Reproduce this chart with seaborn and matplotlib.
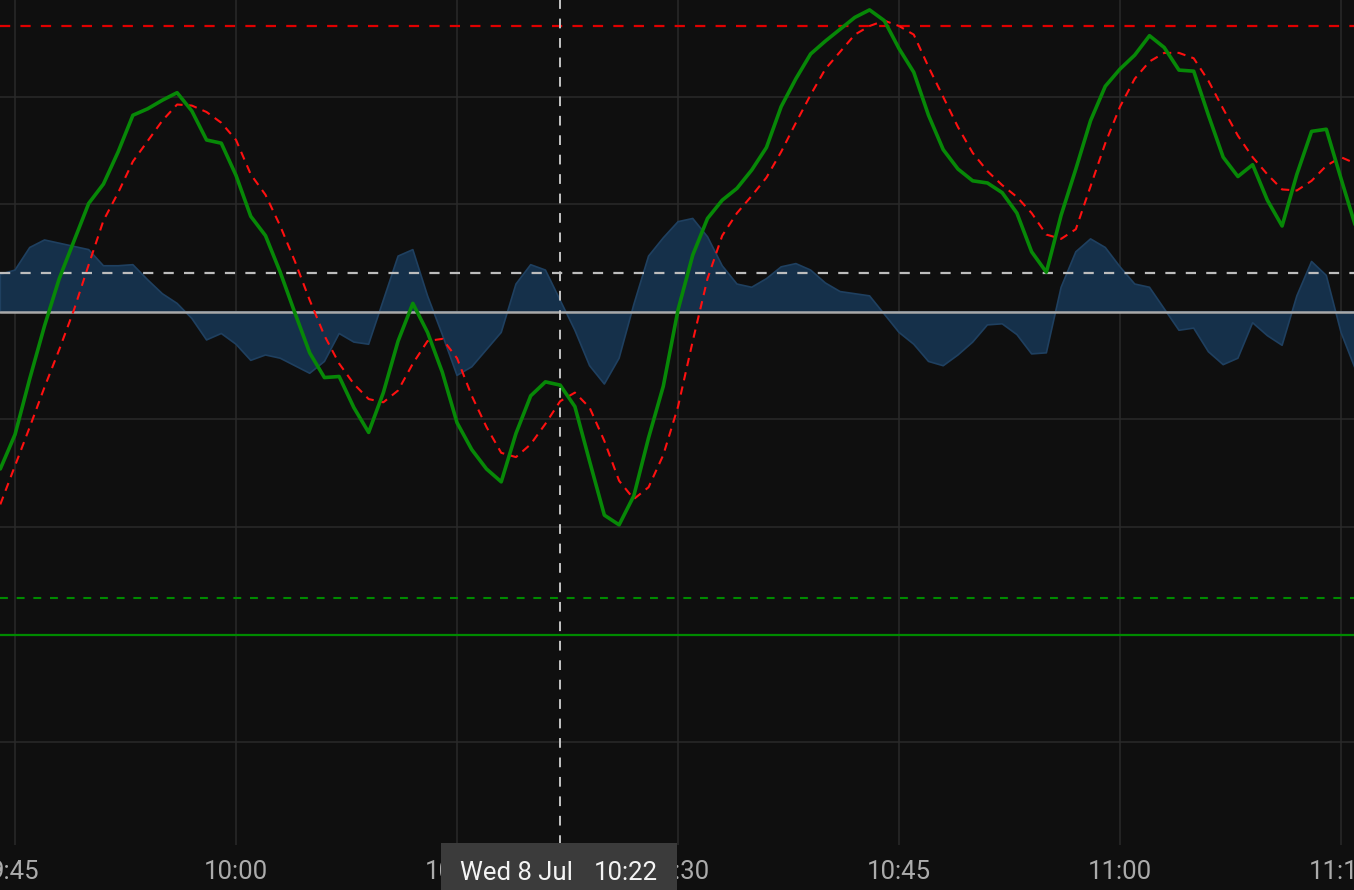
import pandas as pd
import matplotlib
matplotlib.use("Agg")
import matplotlib.pyplot as plt
import matplotlib.dates as mdates
from matplotlib.patches import Rectangle
import seaborn as sns

# ===================== 数据（每分钟一个点，09:44 起） =====================
start_time = "2020-07-08 09:44"
macd = [-1.46, -1.14, -0.62, -0.13, 0.31, 0.66, 1.01, 1.19, 1.49, 1.83,
        1.89, 1.97, 2.04, 1.87, 1.60, 1.57, 1.27, 0.89, 0.71, 0.37,
        -0.01, -0.38, -0.61, -0.60, -0.89, -1.12, -0.75, -0.27, 0.08, -0.19,
        -0.56, -1.03, -1.28, -1.46, -1.58, -1.13, -0.78, -0.65, -0.68, -0.88,
        -1.39, -1.89, -1.98, -1.71, -1.17, -0.69, 0.02, 0.53, 0.87, 1.04,
        1.15, 1.32, 1.53, 1.91, 2.17, 2.40, 2.52, 2.63, 2.74, 2.81,
        2.71, 2.45, 2.23, 1.83, 1.51, 1.33, 1.22, 1.20, 1.11, 0.92,
        0.56, 0.37, 0.90, 1.33, 1.78, 2.10, 2.26, 2.39, 2.57, 2.46,
        2.25, 2.24, 1.83, 1.44, 1.26, 1.37, 1.04, 0.80, 1.28, 1.68,
        1.70, 1.24, 0.79]
signal = [-1.79, -1.43, -1.07, -0.70, -0.35, 0.02, 0.44, 0.85, 1.11, 1.40,
          1.59, 1.78, 1.93, 1.92, 1.86, 1.76, 1.60, 1.28, 1.09, 0.80,
          0.47, 0.11, -0.22, -0.48, -0.67, -0.81, -0.84, -0.73, -0.48, -0.27,
          -0.25, -0.43, -0.78, -1.07, -1.31, -1.35, -1.23, -1.04, -0.83, -0.75,
          -0.89, -1.20, -1.57, -1.74, -1.63, -1.33, -0.88, -0.27, 0.31, 0.71,
          0.92, 1.08, 1.25, 1.49, 1.76, 2.02, 2.26, 2.42, 2.58, 2.66,
          2.71, 2.66, 2.58, 2.28, 2.00, 1.72, 1.48, 1.31, 1.18, 1.07,
          0.92, 0.72, 0.68, 0.77, 1.17, 1.57, 1.91, 2.17, 2.33, 2.41,
          2.41, 2.36, 2.15, 1.89, 1.64, 1.44, 1.28, 1.14, 1.13, 1.22,
          1.36, 1.44, 1.38]
hist = [0.35, 0.39, 0.60, 0.67, 0.64, 0.61, 0.58, 0.43, 0.43, 0.44,
        0.30, 0.17, 0.08, -0.06, -0.26, -0.20, -0.30, -0.45, -0.40, -0.43,
        -0.50, -0.57, -0.46, -0.20, -0.28, -0.30, 0.11, 0.52, 0.58, 0.15,
        -0.21, -0.59, -0.51, -0.35, -0.19, 0.26, 0.44, 0.39, 0.11, -0.17,
        -0.50, -0.67, -0.43, 0.07, 0.52, 0.69, 0.84, 0.87, 0.70, 0.43,
        0.26, 0.23, 0.31, 0.42, 0.45, 0.39, 0.27, 0.19, 0.17, 0.15,
        -0.02, -0.19, -0.30, -0.46, -0.50, -0.40, -0.28, -0.12, -0.11, -0.21,
        -0.39, -0.38, 0.23, 0.56, 0.68, 0.60, 0.42, 0.26, 0.23, 0.03,
        -0.17, -0.15, -0.37, -0.49, -0.43, -0.10, -0.22, -0.31, 0.15, 0.47,
        0.34, -0.19, -0.54]

# 参考线
upper_level = 2.66
hist_level = 0.36
lower_level = -2.66
floor_level = -3.0
cursor_time = "2020-07-08 10:22"
tooltip_date = "Wed 8 Jul"
tooltip_time = "10:22"

df = pd.DataFrame({
    "time": pd.date_range(start_time, periods=len(macd), freq="min"),
    "macd": macd,
    "signal": signal,
    "hist": hist,
})

# ===================== 样式 =====================
BG = "#0f0f0f"
sns.set_theme(style="dark", rc={
    "axes.facecolor": BG,
    "figure.facecolor": BG,
    "axes.edgecolor": BG,
    "grid.color": "#2a2a2a",
    "grid.linewidth": 1.1,
})
plt.rcParams["font.family"] = ["Roboto", "DejaVu Sans"]

fig = plt.figure(figsize=(13.54, 8.90), dpi=100)
ax = fig.add_axes([0, 45 / 890, 1, 845 / 890])

# 柱状区域（面积）
ax.fill_between(df["time"], 0, df["hist"], color="#15304a", edgecolor="#1f4060",
                linewidth=1.2, zorder=2)

# 水平参考线
ax.axhline(0, color="#a8a8a8", lw=1.8, zorder=3)
ax.axhline(hist_level, color="#bdbdbd", lw=1.6, dashes=(4.6, 4.6), zorder=3)
ax.axhline(upper_level, color="#e00000", lw=1.6, dashes=(4.6, 4.6), zorder=3)
ax.axhline(lower_level, color="#008a00", lw=1.5, dashes=(3.8, 4.2), zorder=3)
ax.axhline(floor_level, color="#008a00", lw=1.6, zorder=3)

# 信号线 + MACD 线
sns.lineplot(data=df, x="time", y="signal", ax=ax, color="#ff1010", lw=1.5,
             zorder=4)
ax.lines[-1].set_dashes((4.0, 3.0))
sns.lineplot(data=df, x="time", y="macd", ax=ax, color="#078807", lw=2.6, zorder=5)

# 十字光标
ax.axvline(pd.Timestamp(cursor_time), color="#c4c4c4", lw=1.4, dashes=(5, 5), zorder=6)

# 坐标轴
t0 = pd.Timestamp(start_time)
ax.set_xlim(t0 - pd.Timedelta(minutes=0.02), t0 + pd.Timedelta(minutes=91.88))
ax.set_ylim(-4.958, 2.902)
ax.set_yticks([-4, -3, -2, -1, 0, 1, 2])
ax.set_yticklabels([])
ax.xaxis.set_major_locator(mdates.MinuteLocator(byminute=[0, 15, 30, 45]))
ax.xaxis.set_major_formatter(mdates.DateFormatter("%-H:%M"))
ax.grid(True, which="major", axis="both")
ax.tick_params(axis="x", length=0, pad=11, labelsize=18.5, colors="#ababab")
ax.tick_params(axis="y", length=0)
ax.set_xlabel("")
ax.set_ylabel("")
for s in ax.spines.values():
    s.set_visible(False)

# 提示框
fig.add_artist(Rectangle((441 / 1354, 0), (677 - 441) / 1354, 47 / 890,
                         transform=fig.transFigure, facecolor="#3b3b3b",
                         edgecolor="none", zorder=10))
fig.text(460 / 1354, 17 / 890, tooltip_date, ha="left", va="center",
         fontsize=18.5, color="#f4f4f4", zorder=11)
fig.text(658 / 1354, 17 / 890, tooltip_time, ha="right", va="center",
         fontsize=18.5, color="#f4f4f4", zorder=11)

fig.savefig("out.png", dpi=100, facecolor=BG)
